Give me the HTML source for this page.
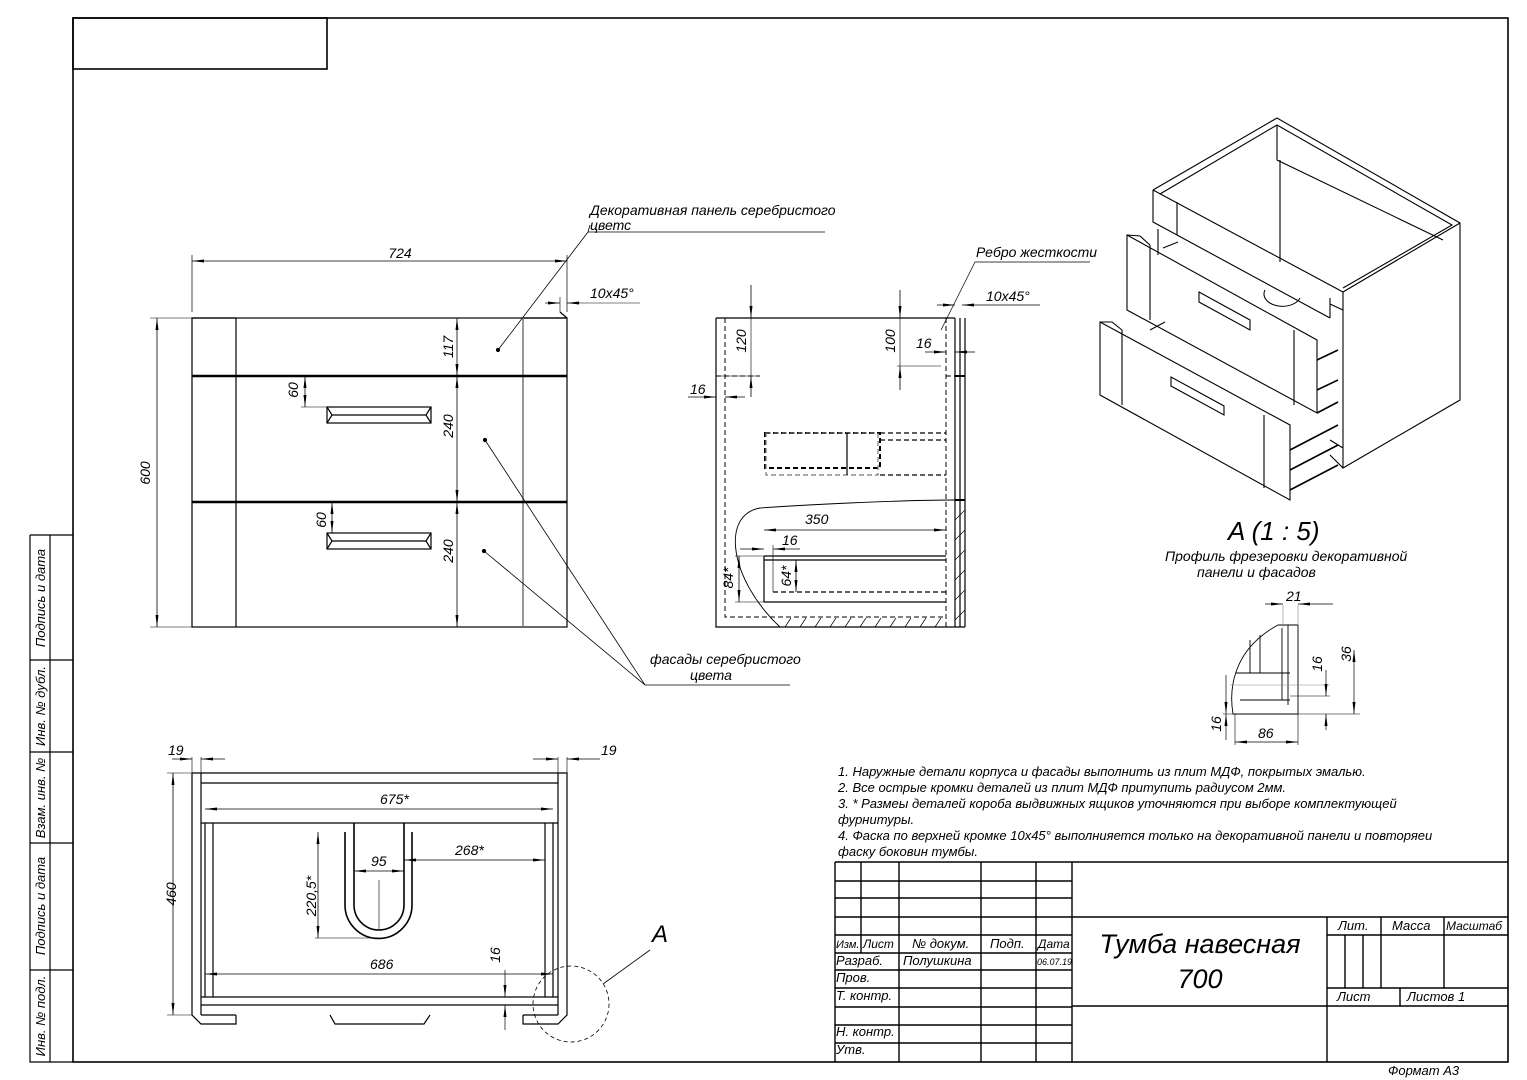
<!DOCTYPE html>
<html><head><meta charset="utf-8"><style>
html,body{margin:0;padding:0;background:#fff}
svg{display:block}
text{font-family:"Liberation Sans","DejaVu Sans",sans-serif;font-style:italic;fill:#000}
</style></head><body>
<svg width="1527" height="1080" viewBox="0 0 1527 1080" xmlns="http://www.w3.org/2000/svg">
<defs>
<marker id="a" markerWidth="12" markerHeight="6" refX="12" refY="3" orient="auto-start-reverse" markerUnits="userSpaceOnUse"><path d="M0,1.5 L12,3 L0,4.5z" fill="#000"/></marker>
</defs>
<g fill="none" stroke="#000" stroke-width="1.2">
<rect x="73" y="18" width="1435" height="1044" stroke-width="1.6"/>
<rect x="73" y="18" width="254" height="51" stroke-width="1.6"/>
<path d="M30,535 H73 M30,535 V1062 H73 M50,535 V1062 M30,660 H73 M30,752 H73 M30,843 H73 M30,970 H73"/>

<!-- FRONT VIEW -->
<rect x="192" y="318" width="375" height="309"/>
<path d="M236,318 V627 M192,318 H236 M523,318 H567 M560,312 L567,318"/>
<path d="M523,318 V627" stroke="#777" stroke-width="1.5"/>
<path d="M192,376 H567 M192,502 H567" stroke-width="2.4"/>
<rect x="327" y="407" width="104" height="16"/><path d="M327,407 l5,8 -5,8 M431,407 l-5,8 5,8 M332,415 H426"/>
<rect x="327" y="533" width="104" height="16"/><path d="M327,533 l5,8 -5,8 M431,533 l-5,8 5,8 M332,541 H426"/>
<path d="M192,312 V255 M567,312 V255" stroke-width="0.7"/>
<line x1="192" y1="261" x2="567" y2="261" marker-start="url(#a)" marker-end="url(#a)" stroke-width="0.8"/>
<line x1="157" y1="318" x2="157" y2="627" marker-start="url(#a)" marker-end="url(#a)" stroke-width="0.8"/>
<path d="M150,318 H192 M150,627 H192" stroke-width="0.6"/>
<line x1="457" y1="318" x2="457" y2="376" marker-start="url(#a)" marker-end="url(#a)" stroke-width="0.8"/>
<line x1="457" y1="376" x2="457" y2="502" marker-start="url(#a)" marker-end="url(#a)" stroke-width="0.8"/>
<line x1="457" y1="502" x2="457" y2="627" marker-start="url(#a)" marker-end="url(#a)" stroke-width="0.8"/>
<line x1="305" y1="376" x2="305" y2="407" marker-start="url(#a)" marker-end="url(#a)" stroke-width="0.8"/>
<path d="M301,407 H327" stroke-width="0.6"/>
<line x1="332" y1="502" x2="332" y2="533" marker-start="url(#a)" marker-end="url(#a)" stroke-width="0.8"/>
<line x1="545" y1="303" x2="560" y2="303" marker-end="url(#a)" stroke-width="0.7"/>
<line x1="580" y1="303" x2="567" y2="303" marker-end="url(#a)" stroke-width="0.7"/>
<path d="M580,303 H640 M560,297 V312" stroke-width="0.6"/>
<path d="M498,350 L588,232 L825,232 M588,232 L590,225" stroke-width="0.8"/>
<path d="M485,440 L645,685 L790,685 M484,551 L645,685" stroke-width="0.8"/>
<circle cx="498" cy="350" r="1.5" fill="#000"/><circle cx="485" cy="440" r="1.5" fill="#000"/><circle cx="484" cy="551" r="1.5" fill="#000"/>

<!-- SIDE VIEW -->
<path d="M716,318 H955 M716,318 V627 H965 M955,318 V627 M960,318 V627 M965,318 V627"/>
<path d="M725,318 V617 H946 M946,318 V627 M716,376 H760 M946,376 H960" stroke-dasharray="5,3" stroke-width="1"/>
<path d="M955,376 H965 M955,500 H965" stroke-width="2"/>
<rect x="765" y="433" width="115" height="35" stroke-dasharray="5,3" stroke-width="2"/>
<rect x="766" y="433" width="112" height="42" stroke-dasharray="5,3" stroke="#777"/>
<path d="M880,433 H946 M880,440 H946 M880,475 H946" stroke-dasharray="5,3"/>
<path d="M847,433 V475"/>
<path d="M764,556 H946 M764,560 H946 M764,602 H946 M764,556 V602"/>
<path d="M773,592 H946" stroke-dasharray="5,3"/>
<path d="M955,500 C900,500 800,505 760,508 C720,515 730,580 780,627" stroke-width="0.9"/>
<path d="M785,627 l6,-9 M800,627 l6,-9 M815,627 l6,-9 M830,627 l6,-9 M845,627 l6,-9 M860,627 l6,-9 M875,627 l6,-9 M890,627 l6,-9 M905,627 l6,-9 M920,627 l6,-9 M935,627 l6,-9 M955,520 l10,-10 M955,540 l10,-10 M955,560 l10,-10 M955,580 l10,-10 M955,600 l10,-10 M955,620 l10,-10" stroke-width="0.7"/>
<line x1="751" y1="285" x2="751" y2="318" marker-end="url(#a)" stroke-width="0.8"/>
<line x1="751" y1="397" x2="751" y2="376" marker-end="url(#a)" stroke-width="0.8"/>
<path d="M751,318 V376 M716,376 H757" stroke-width="0.6"/>
<line x1="688" y1="397" x2="716" y2="397" marker-end="url(#a)" stroke-width="0.8"/>
<line x1="745" y1="397" x2="725" y2="397" marker-end="url(#a)" stroke-width="0.8"/>
<line x1="900" y1="290" x2="900" y2="318" marker-end="url(#a)" stroke-width="0.8"/>
<line x1="900" y1="390" x2="900" y2="366" marker-end="url(#a)" stroke-width="0.8"/>
<path d="M900,318 V366 M897,366 H941" stroke-width="0.6"/>
<line x1="925" y1="352" x2="946" y2="352" marker-end="url(#a)" stroke-width="0.7"/>
<line x1="975" y1="352" x2="955" y2="352" marker-end="url(#a)" stroke-width="0.7"/>
<line x1="937" y1="305" x2="955" y2="305" marker-end="url(#a)" stroke-width="0.7"/>
<line x1="980" y1="305" x2="962" y2="305" marker-end="url(#a)" stroke-width="0.7"/>
<path d="M980,305 H1040 M941,330 L975,262 L1090,262" stroke-width="0.7"/>
<line x1="764" y1="530" x2="946" y2="530" marker-start="url(#a)" marker-end="url(#a)" stroke-width="0.8"/>
<line x1="740" y1="549" x2="764" y2="549" marker-end="url(#a)" stroke-width="0.7"/>
<line x1="800" y1="549" x2="773" y2="549" marker-end="url(#a)" stroke-width="0.7"/>
<path d="M773,545 V592 M735,556 H764 M735,602 H764" stroke-width="0.6"/>
<line x1="739" y1="556" x2="739" y2="602" marker-start="url(#a)" marker-end="url(#a)" stroke-width="0.8"/>
<line x1="796" y1="560" x2="796" y2="592" marker-start="url(#a)" marker-end="url(#a)" stroke-width="0.8"/>

<!-- BOTTOM VIEW -->
<path d="M192,773 H567 V1015 L558,1024 H523 V1015 M192,773 V1015 L201,1024 H236 V1015 M201,773 V1015 M558,773 V1015 M201,783 H558 M201,823 H558 M205,823 V997 M213,823 V997 M545,823 V997 M553,823 V997 M201,997 H558 M201,1005 H558 M201,1015 H236 M523,1015 H558"/>
<path d="M330,1015 L335,1024 H424 L430,1015"/>
<path d="M345,832 V905 A33,33 0 0 0 412,905 V832 M354,823 V905 A25,25 0 0 0 404,905 V823" stroke-width="1.6"/>
<path d="M379,880 V930" stroke-width="0.6"/>
<line x1="205" y1="809" x2="553" y2="809" marker-start="url(#a)" marker-end="url(#a)" stroke-width="0.8"/>
<line x1="354" y1="871" x2="404" y2="871" marker-start="url(#a)" marker-end="url(#a)" stroke-width="0.8"/>
<line x1="404" y1="860" x2="545" y2="860" marker-start="url(#a)" marker-end="url(#a)" stroke-width="0.8"/>
<line x1="318" y1="832" x2="318" y2="938" marker-start="url(#a)" marker-end="url(#a)" stroke-width="0.8"/>
<path d="M315,938 H379" stroke-width="0.6"/>
<line x1="205" y1="974" x2="553" y2="974" marker-start="url(#a)" marker-end="url(#a)" stroke-width="0.8"/>
<line x1="173" y1="773" x2="173" y2="1015" marker-start="url(#a)" marker-end="url(#a)" stroke-width="0.8"/>
<path d="M167,773 H192 M167,1015 H192 M192,757 V773 M201,757 V773 M558,757 V773 M567,757 V773" stroke-width="0.6"/>
<line x1="172" y1="759" x2="192" y2="759" marker-end="url(#a)" stroke-width="0.7"/>
<line x1="225" y1="759" x2="201" y2="759" marker-end="url(#a)" stroke-width="0.7"/>
<line x1="533" y1="759" x2="558" y2="759" marker-end="url(#a)" stroke-width="0.7"/>
<line x1="600" y1="759" x2="567" y2="759" marker-end="url(#a)" stroke-width="0.7"/>
<line x1="505" y1="970" x2="505" y2="997" marker-end="url(#a)" stroke-width="0.7"/>
<line x1="505" y1="1030" x2="505" y2="1005" marker-end="url(#a)" stroke-width="0.7"/>
<circle cx="571" cy="1004" r="38" stroke-dasharray="4,3" stroke-width="0.8"/>
<path d="M603,984 L650,950" stroke-width="0.8"/>

<!-- ISOMETRIC -->
<g stroke-width="1.1">
<path d="M1153,190 L1277,118 L1460,223 L1460,400 L1343,468 L1343,292 L1460,223 M1153,190 L1343,292 M1160,194 L1277,125 L1452,225 L1343,288 M1277,125 V160 L1443,240 M1280,160 V262"/>
<path d="M1153,190 V222 L1177,235 V202 M1177,235 L1330,318 M1330,318 V298 M1343,310 L1330,304 M1158,229 V255 M1330,440 L1343,448 M1330,455 L1343,468"/>
<path d="M1127,235 L1317,340 L1317,413 L1127,310 Z M1150,245 V320 M1294,330 V405 M1127,235 L1140,236 L1150,245"/>
<path d="M1199,292 L1250,320 L1250,330 L1199,302 Z"/>
<path d="M1100,322 L1290,425 L1290,500 L1100,395 Z M1122,330 V405 M1264,415 V488 M1100,322 L1112,322 L1122,330"/>
<path d="M1171,377 L1224,406 L1224,415 L1171,386 Z"/>
<path d="M1317,360 L1338,350 M1317,390 L1338,380 M1290,450 L1338,425 M1290,470 L1338,445 M1290,490 L1338,465 M1317,413 L1338,402" stroke-width="1.6"/>
<path d="M1163,248 L1178,242 M1150,330 L1165,322 M1265,290 A18,12 0 0 0 1300,298" stroke-width="1"/>
</g>

<!-- PROFILE A -->
<path d="M1298,625 V714 H1233 C1229,690 1232,650 1278,625 Z M1288,625 V705 M1282,628 V700 M1260,635 V673 M1250,640 V673 M1236,673 H1290 M1240,700 H1290" stroke-width="0.9"/>
<path d="M1230,685 H1330 M1298,605 V625 M1283,605 V627" stroke-width="0.6" stroke="#888"/>
<line x1="1265" y1="604" x2="1283" y2="604" marker-end="url(#a)" stroke-width="0.7"/>
<line x1="1333" y1="604" x2="1298" y2="604" marker-end="url(#a)" stroke-width="0.7"/>
<line x1="1326" y1="670" x2="1326" y2="696" marker-end="url(#a)" stroke-width="0.7"/>
<line x1="1326" y1="730" x2="1326" y2="714" marker-end="url(#a)" stroke-width="0.7"/>
<line x1="1354" y1="650" x2="1354" y2="714" marker-start="url(#a)" marker-end="url(#a)" stroke-width="0.7"/>
<line x1="1226" y1="675" x2="1226" y2="714" marker-end="url(#a)" stroke-width="0.7"/>
<line x1="1226" y1="740" x2="1226" y2="714" marker-end="url(#a)" stroke-width="0.7"/>
<line x1="1235" y1="742" x2="1298" y2="742" marker-start="url(#a)" marker-end="url(#a)" stroke-width="0.7"/>
<path d="M1223,714 H1360 M1235,714 V745 M1298,714 V745 M1290,696 H1330" stroke-width="0.6"/>

<!-- TITLE BLOCK -->
<g stroke-width="1.4">
<path d="M835,862 H1508 M835,862 V1062 M1072,862 V1062 M1327,917 V1062 M1072,917 H1508 M1072,1006 H1508 M1327,935 H1508 M1327,988 H1508"/>
<path d="M835,881 H1072 M835,898 H1072 M835,917 H1072 M835,935 H1072 M835,953 H1072 M835,970 H1072 M835,988 H1072 M835,1007 H1072 M835,1025 H1072 M835,1043 H1072"/>
<path d="M861,862 V953 M899,862 V1062 M981,862 V1062 M1036,862 V1062"/>
<path d="M1345,935 V988 M1363,935 V988 M1381,917 V988 M1444,917 V988 M1400,988 V1006"/>
</g>
</g>

<g font-size="14">
<text x="400" y="258" text-anchor="middle">724</text>
<text x="590" y="215">Декоративная панель серебристого</text>
<text x="590" y="230">цветс</text>
<text x="590" y="298">10x45°</text>
<text x="650" y="664">фасады серебристого</text>
<text x="690" y="680">цвета</text>
<text x="976" y="257">Ребро жесткости</text>
<text x="986" y="301">10x45°</text>
<text x="805" y="524">350</text>
<text x="782" y="545">16</text>
<text x="916" y="348">16</text>
<text x="690" y="394">16</text>
<text x="380" y="804">675*</text>
<text x="371" y="866">95</text>
<text x="455" y="855">268*</text>
<text x="370" y="969">686</text>
<text x="168" y="755">19</text>
<text x="601" y="755">19</text>
<text x="1286" y="601">21</text>
<text x="1258" y="738">86</text>
<text x="652" y="942" font-size="24">A</text>
<text x="1228" y="540" font-size="26">A  (1 : 5)</text>
<text x="1165" y="561">Профиль фрезеровки декоративной</text>
<text x="1197" y="577">панели и фасадов</text>
</g>
<g font-size="14">
<text transform="translate(150,473) rotate(-90)" text-anchor="middle">600</text>
<text transform="translate(453,347) rotate(-90)" text-anchor="middle">117</text>
<text transform="translate(453,426) rotate(-90)" text-anchor="middle">240</text>
<text transform="translate(453,551) rotate(-90)" text-anchor="middle">240</text>
<text transform="translate(298,390) rotate(-90)" text-anchor="middle">60</text>
<text transform="translate(326,520) rotate(-90)" text-anchor="middle">60</text>
<text transform="translate(746,341) rotate(-90)" text-anchor="middle">120</text>
<text transform="translate(895,341) rotate(-90)" text-anchor="middle">100</text>
<text transform="translate(733,578) rotate(-90)" text-anchor="middle">84*</text>
<text transform="translate(791,576) rotate(-90)" text-anchor="middle">64*</text>
<text transform="translate(176,894) rotate(-90)" text-anchor="middle">460</text>
<text transform="translate(316,896) rotate(-90)" text-anchor="middle">220,5*</text>
<text transform="translate(500,955) rotate(-90)" text-anchor="middle">16</text>
<text transform="translate(1322,664) rotate(-90)" text-anchor="middle">16</text>
<text transform="translate(1351,654) rotate(-90)" text-anchor="middle">36</text>
<text transform="translate(1221,724) rotate(-90)" text-anchor="middle">16</text>
<text transform="translate(45,598) rotate(-90)" text-anchor="middle" font-size="13">Подпись и дата</text>
<text transform="translate(45,706) rotate(-90)" text-anchor="middle" font-size="13">Инв. № дубл.</text>
<text transform="translate(45,798) rotate(-90)" text-anchor="middle" font-size="13">Взам. инв. №</text>
<text transform="translate(45,906) rotate(-90)" text-anchor="middle" font-size="13">Подпись и дата</text>
<text transform="translate(45,1016) rotate(-90)" text-anchor="middle" font-size="13">Инв. № подл.</text>
</g>
<g font-size="13">
<text x="838" y="776">1. Наружные детали корпуса и фасады выполнить из плит МДФ, покрытых эмалью.</text>
<text x="838" y="792">2. Все острые кромки деталей из плит МДФ притупить радиусом 2мм.</text>
<text x="838" y="808">3.  * Размеы деталей короба выдвижных ящиков уточняются при выборе комплектующей</text>
<text x="838" y="824">фурнитуры.</text>
<text x="838" y="840">4. Фаска по верхней кромке 10x45°  выполнияется только на декоративной панели и повторяеи</text>
<text x="838" y="856">фаску боковин тумбы.</text>
<text x="836" y="948" font-size="11">Изм.</text><text x="863" y="948" font-size="12">Лист</text><text x="912" y="948">№ докум.</text><text x="990" y="948">Подп.</text><text x="1038" y="948" font-size="12">Дата</text>
<text x="836" y="965">Разраб.</text><text x="903" y="965">Полушкина</text><text x="1037" y="965" font-size="9">06.07.19</text>
<text x="836" y="982">Пров.</text>
<text x="836" y="1000">Т. контр.</text>
<text x="836" y="1036">Н. контр.</text>
<text x="836" y="1054">Утв.</text>
<text x="1338" y="930">Лит.</text><text x="1392" y="930">Масса</text><text x="1446" y="930" font-size="12">Масштаб</text>
<text x="1337" y="1001">Лист</text><text x="1407" y="1001">Листов 1</text>
<text x="1388" y="1075">Формат А3</text>
</g>
<text x="1200" y="953" font-size="27" text-anchor="middle">Тумба навесная</text>
<text x="1200" y="988" font-size="27" text-anchor="middle">700</text>
</svg>
</body></html>
